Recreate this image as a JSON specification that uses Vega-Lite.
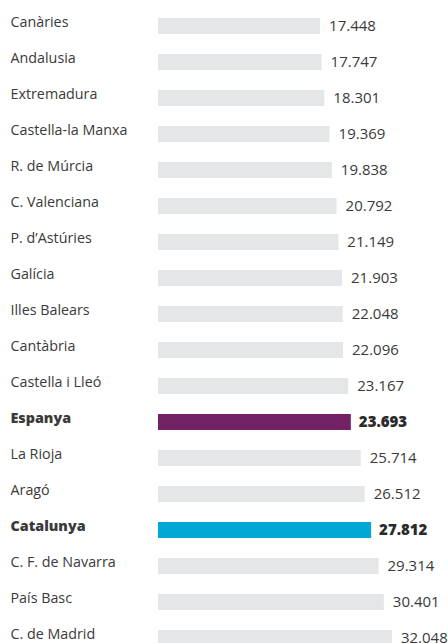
{
  "$schema": "https://vega.github.io/schema/vega-lite/v6.json",
  "width": 290,
  "height": 648,
  "autosize": {"type": "none"},
  "padding": {"left": 158, "top": 8, "right": 0, "bottom": 0},
  "background": "white",
  "config": {
    "view": {"stroke": null},
    "font": "Open Sans",
    "locale": {"number": {"decimal": ",", "thousands": ".", "grouping": [3], "currency": ["", " €"]}}
  },
  "data": {"values": [
    {"regio": "Canàries", "valor": 17448},
    {"regio": "Andalusia", "valor": 17747},
    {"regio": "Extremadura", "valor": 18301},
    {"regio": "Castella-la Manxa", "valor": 19369},
    {"regio": "R. de Múrcia", "valor": 19838},
    {"regio": "C. Valenciana", "valor": 20792},
    {"regio": "P. d’Astúries", "valor": 21149},
    {"regio": "Galícia", "valor": 21903},
    {"regio": "Illes Balears", "valor": 22048},
    {"regio": "Cantàbria", "valor": 22096},
    {"regio": "Castella i Lleó", "valor": 23167},
    {"regio": "Espanya", "valor": 23693},
    {"regio": "La Rioja", "valor": 25714},
    {"regio": "Aragó", "valor": 26512},
    {"regio": "Catalunya", "valor": 27812},
    {"regio": "C. F. de Navarra", "valor": 29314},
    {"regio": "País Basc", "valor": 30401},
    {"regio": "C. de Madrid", "valor": 32048}
  ]},
  "encoding": {
    "y": {
      "field": "regio", "type": "nominal", "sort": null,
      "scale": {"paddingInner": 0.556, "paddingOuter": 0.278},
      "axis": {
        "title": null, "domain": false, "ticks": false,
        "labelAlign": "left", "labelPadding": 148, "labelOffset": -3,
        "labelFontSize": 14.3, "labelColor": "#3a3a3a", "labelFont": "Open Sans",
        "labelFontWeight": {"condition": {"test": "datum.value === 'Espanya' || datum.value === 'Catalunya'", "value": 800}, "value": "normal"},
        "labelLimit": 200
      }
    },
    "x": {
      "field": "valor", "type": "quantitative",
      "scale": {"domain": [-15500, 43440], "zero": false, "nice": false},
      "axis": null
    }
  },
  "layer": [
    {
      "mark": {"type": "bar"},
      "encoding": {
        "x2": {"datum": -15500},
        "color": {
          "condition": [
            {"test": "datum.regio === 'Espanya'", "value": "#722264"},
            {"test": "datum.regio === 'Catalunya'", "value": "#00a9d4"}
          ],
          "value": "#e5e6e7"
        }
      }
    },
    {
      "transform": [{"filter": "datum.regio !== 'Espanya' && datum.regio !== 'Catalunya'"}],
      "mark": {"type": "text", "align": "left", "baseline": "middle", "dx": 9, "fontSize": 15, "color": "#3a3a3a"},
      "encoding": {"text": {"field": "valor", "type": "quantitative", "format": ",d"}}
    },
    {
      "transform": [{"filter": "datum.regio === 'Espanya' || datum.regio === 'Catalunya'"}],
      "mark": {"type": "text", "align": "left", "baseline": "middle", "dx": 8, "fontSize": 15, "fontWeight": 800, "color": "#2a2a2a"},
      "encoding": {"text": {"field": "valor", "type": "quantitative", "format": ",d"}}
    }
  ]
}
